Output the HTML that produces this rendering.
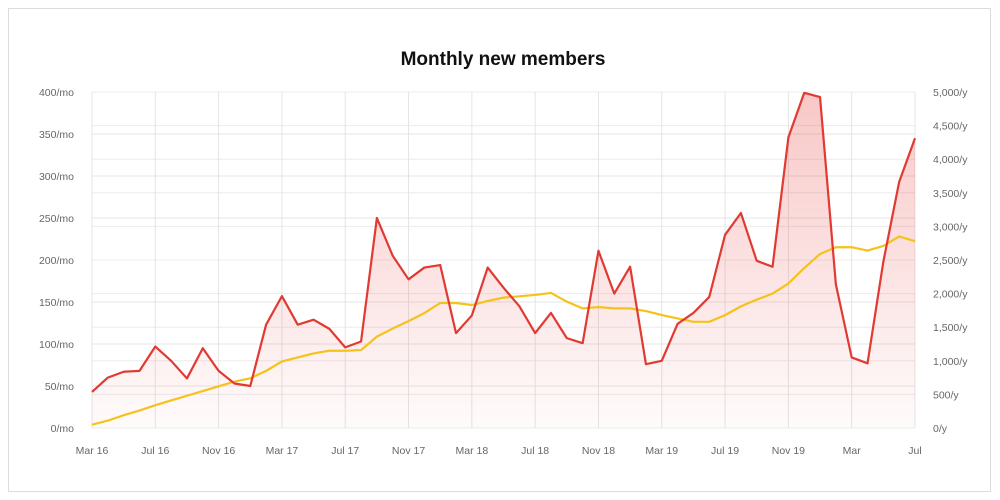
<!DOCTYPE html>
<html><head><meta charset="utf-8"><style>
html,body{margin:0;padding:0;background:#fff;width:1000px;height:500px;overflow:hidden;font-family:"Liberation Sans",sans-serif}
#card{position:absolute;left:8px;top:8px;width:983px;height:484px;border:1px solid #dcdcdc;box-sizing:border-box}
</style></head><body>
<div id="card"></div>
<svg id="chart" width="1000" height="500" style="position:absolute;left:0;top:0">
<defs><linearGradient id="fillg" x1="0" y1="0" x2="0" y2="1">
<stop offset="0" stop-color="#e53935" stop-opacity="0.28"/><stop offset="1" stop-color="#e53935" stop-opacity="0.02"/></linearGradient></defs>
<text x="503" y="65" text-anchor="middle" font-size="19" font-weight="bold" fill="#111">Monthly new members</text>
</svg>
<script>
const xLabels=["Mar 16","Jul 16","Nov 16","Mar 17","Jul 17","Nov 17","Mar 18","Jul 18","Nov 18","Mar 19","Jul 19","Nov 19","Mar","Jul"];
const leftTicks=[0,50,100,150,200,250,300,350,400];
const rightTicks=[0,500,1000,1500,2000,2500,3000,3500,4000,4500,5000];
const monthly=[43,60,67,68,97,80,59,95,68,53,50,123,157,123,129,118,96,103,250,205,177,191,194,113,134,191,167,145,113,137,107,101,211,160,192,76,80,124,137,156,230,256,199,192,346,399,394,171,84,77,198,293,345];
const yearly=[50,110,190,260,340,410,480,550,620,690,740,850,990,1050,1110,1150,1150,1160,1360,1480,1590,1710,1860,1860,1830,1890,1940,1960,1980,2010,1880,1780,1800,1780,1780,1740,1680,1630,1580,1580,1680,1810,1910,2000,2150,2380,2590,2690,2690,2640,2710,2850,2780];
const L=92,R=915,T=92,B=428;
const n=monthly.length;
const xs=i=>L+(R-L)*i/(n-1);
const yl=v=>B-(B-T)*v/400;
const yr=v=>B-(B-T)*v/5000;
const svg=document.getElementById('chart');
const NS='http://www.w3.org/2000/svg';
function mk(tag,attrs){const e=document.createElementNS(NS,tag);for(const k in attrs)e.setAttribute(k,attrs[k]);svg.appendChild(e);return e;}
leftTicks.forEach(v=>{
 const g=mk('line',{x1:L,x2:R,y1:yl(v),y2:yl(v),stroke:v===0?'#999':'#e4e4e4','stroke-width':1});
 
 
 const t=mk('text',{x:L-18,y:yl(v)+4,'text-anchor':'end','font-size':10.5,fill:'#666'});t.textContent=v+'/mo';
 
 
});
rightTicks.forEach(v=>{
 const g=mk('line',{x1:L,x2:R,y1:yr(v),y2:yr(v),stroke:'#ececec','stroke-width':1});
 
 
 const t=mk('text',{x:R+18,y:yr(v)+4,'text-anchor':'start','font-size':10.5,fill:'#666'});t.textContent=v.toLocaleString('en-US')+'/y';
 
 
});
xLabels.forEach((lab,k)=>{
 const x=xs(k*4);
 const g=mk('line',{x1:x,x2:x,y1:T,y2:B,stroke:'#e4e4e4','stroke-width':1});
 
 
 const t=mk('text',{x:x,y:B+26,'text-anchor':'middle','font-size':10.5,fill:'#666'});t.textContent=lab;
 
 
});
const redPts=monthly.map((v,i)=>xs(i)+','+yl(v));
const area=mk('polygon',{points:redPts.join(' ')+' '+xs(n-1)+','+B+' '+xs(0)+','+B,fill:'url(#fillg)'});


const yel=mk('polyline',{points:yearly.map((v,i)=>xs(i)+','+yr(v)).join(' '),fill:'none',stroke:'#f5c21b','stroke-width':2.2,'stroke-linejoin':'round'});


const red=mk('polyline',{points:redPts.join(' '),fill:'none',stroke:'#e03a32','stroke-width':2.2,'stroke-linejoin':'round'});


</script>
</body></html>
